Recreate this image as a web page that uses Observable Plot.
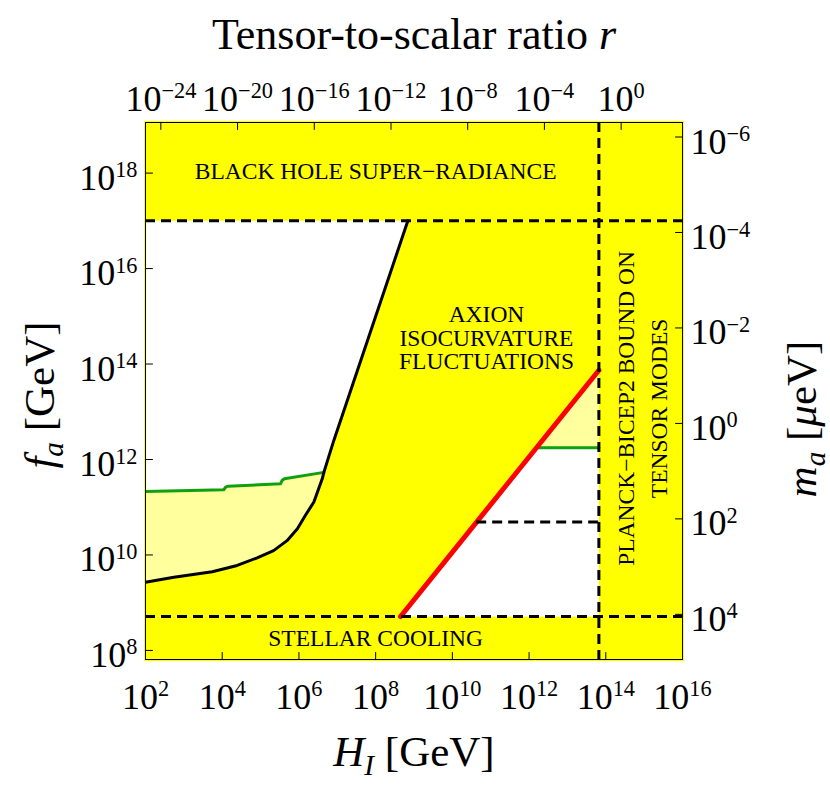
<!DOCTYPE html>
<html><head><meta charset="utf-8">
<script src="https://cdn.jsdelivr.net/npm/d3@7"></script>
<script src="https://cdn.jsdelivr.net/npm/@observablehq/plot@0.6"></script>
<style>
body{margin:0;background:#fff;}
svg{font-family:"Liberation Serif","Times New Roman",serif;}
</style></head><body><div id="chart"></div>
<script>
// ---- axes (log10 exponents) ----
const xDomainExp = [2, 16];          // H_I [GeV]
const yDomainExp = [7.81, 19.06];    // f_a [GeV]
const xTickExp = [2, 4, 6, 8, 10, 12, 14, 16];
const yTickExp = [8, 10, 12, 14, 16, 18];
const rTickExp = [-24, -20, -16, -12, -8, -4, 0];   // tensor-to-scalar ratio r
const maTickExp = [-6, -4, -2, 0, 2, 4];            // m_a [μeV]
const logHatUnitR = 14.4;     // log10 H_I where r = 1
const logMaTimesFa = 12.756;  // log10( m_a[μeV] * f_a[GeV] )

// ---- curves (log10 H_I, log10 f_a) ----
const isoLogH = [2.00, 2.74, 3.74, 4.39, 4.91, 5.34, 5.69, 5.96, 6.17, 6.39, 6.61, 6.65, 6.91, 8.84];
const isoLogF = [9.43, 9.535, 9.65, 9.78, 9.94, 10.09, 10.30, 10.55, 10.83, 11.11, 11.60, 11.73, 12.40, 17.0];
const greenLogH = [2.00, 4.04, 4.09, 4.15, 5.52, 5.56, 5.62, 6.65];
const greenLogF = [11.33, 11.366, 11.42, 11.44, 11.49, 11.56, 11.596, 11.73];
const redLogH = [8.65, 13.82];
const redLogF = [8.71, 13.87];
const blackHoleLogF = 17.0;
const stellarLogF = 8.71;
const planckLogH = 13.82;
const greenRightLogF = 12.245;
const shortDashLogF = 10.69;

// ---- region labels ----
const labelTexts = ["BLACK HOLE SUPER\u2212RADIANCE", "AXION\nISOCURVATURE\nFLUCTUATIONS", "STELLAR COOLING"];
const labelLogH = [8.0, 10.89, 8.0];
const labelLogF = [18.04, 14.54, 8.25];
const planckText = "PLANCK\u2212BICEP2 BOUND ON\nTENSOR MODES";
const planckLabelLogH = 14.88, planckLabelLogF = 13.07;

// ---- colours ----
const YELLOW = "#ffff00", LIGHT = "#ffff9e", GREEN = "#0fa00f", RED = "#ff0000";

// ---- derived geometry ----
const P = (h, f) => ({h, f});
const iso = isoLogH.map((h, i) => P(h, isoLogF[i]));
const green = greenLogH.map((h, i) => P(h, greenLogF[i]));
const jIdx = isoLogH.indexOf(greenLogH[greenLogH.length - 1]);
const redAt = f => redLogH[0] + (f - redLogF[0]) * (redLogH[1] - redLogH[0]) / (redLogF[1] - redLogF[0]);

const whiteA = [P(xDomainExp[0], blackHoleLogF), ...green, ...iso.slice(jIdx + 1)];
const lightB = [...green, ...iso.slice(0, jIdx).reverse()];
const whiteC = [P(redAt(stellarLogF), stellarLogF), P(redAt(greenRightLogF), greenRightLogF), P(planckLogH, greenRightLogF), P(planckLogH, stellarLogF)];
const lightD = [P(redAt(greenRightLogF), greenRightLogF), P(redLogH[1], redLogF[1]), P(planckLogH, greenRightLogF)];
const greenRight = [P(redAt(greenRightLogF), greenRightLogF), P(planckLogH, greenRightLogF)];
const red = redLogH.map((h, i) => P(h, redLogF[i]));

const X = d => 10 ** d.h, Y = d => 10 ** d.f;
const pow = e => "10^" + (e < 0 ? "\u2212" + (-e) : e);
const tickShape = {draw(ctx, l) { ctx.moveTo(0, 0); ctx.lineTo(0, -l); }};
const dash = "10,6";

const plot = Plot.plot({
  width: 830, height: 785,
  marginLeft: 145, marginRight: 148, marginTop: 122, marginBottom: 126,
  style: {fontFamily: '"Liberation Serif","Times New Roman",serif', background: "white"},
  x: {type: "log", domain: xDomainExp.map(e => 10 ** e), axis: null},
  y: {type: "log", domain: yDomainExp.map(e => 10 ** e), axis: null},
  marks: [
    Plot.frame({fill: YELLOW, stroke: YELLOW, strokeWidth: 3}),
    Plot.line(whiteA, {x: X, y: Y, fill: "white", stroke: "none", curve: "linear-closed", clip: true}),
    Plot.line(lightB, {x: X, y: Y, fill: LIGHT, stroke: "none", curve: "linear-closed", clip: true}),
    Plot.line(whiteC, {x: X, y: Y, fill: "white", stroke: "none", curve: "linear-closed", clip: true}),
    Plot.line(lightD, {x: X, y: Y, fill: LIGHT, stroke: "none", curve: "linear-closed", clip: true}),
    Plot.line(green, {x: X, y: Y, stroke: GREEN, strokeWidth: 3, clip: true}),
    Plot.line(greenRight, {x: X, y: Y, stroke: GREEN, strokeWidth: 3, clip: true}),
    Plot.line(iso, {x: X, y: Y, stroke: "black", strokeWidth: 3, clip: true}),
    Plot.line(red, {x: X, y: Y, stroke: RED, strokeWidth: 5, clip: true}),
    Plot.ruleY([blackHoleLogF, stellarLogF], {y: e => 10 ** e, stroke: "black", strokeWidth: 3, strokeDasharray: dash}),
    Plot.ruleX([planckLogH], {x: e => 10 ** e, stroke: "black", strokeWidth: 3, strokeDasharray: dash}),
    Plot.ruleY([shortDashLogF], {y: e => 10 ** e, x1: e => 10 ** redAt(e), x2: 10 ** planckLogH, stroke: "black", strokeWidth: 3, strokeDasharray: dash}),
    Plot.frame({stroke: "black", strokeWidth: 1}),
    // ticks (inward)
    Plot.vector(xTickExp, {x: e => 10 ** e, frameAnchor: "bottom", length: 7, anchor: "start", rotate: 0, shape: tickShape, stroke: "black", strokeWidth: 1}),
    Plot.vector(rTickExp, {x: e => 10 ** (logHatUnitR + e / 2), frameAnchor: "top", length: 7, anchor: "start", rotate: 180, shape: tickShape, stroke: "black", strokeWidth: 1}),
    Plot.vector(yTickExp, {y: e => 10 ** e, frameAnchor: "left", length: 7, anchor: "start", rotate: 90, shape: tickShape, stroke: "black", strokeWidth: 1}),
    Plot.vector(maTickExp, {y: e => 10 ** (logMaTimesFa - e), frameAnchor: "right", length: 7, anchor: "start", rotate: -90, shape: tickShape, stroke: "black", strokeWidth: 1}),
    // tick labels
    Plot.text(xTickExp, {x: e => 10 ** e, frameAnchor: "bottom", text: pow, fontSize: 36, lineAnchor: "bottom", textAnchor: "middle", dy: 49}),
    Plot.text(rTickExp, {x: e => 10 ** (logHatUnitR + e / 2), frameAnchor: "top", text: pow, fontSize: 36, lineAnchor: "bottom", textAnchor: "middle", dy: -12}),
    Plot.text(yTickExp, {y: e => 10 ** e, frameAnchor: "left", text: pow, fontSize: 36, lineAnchor: "middle", textAnchor: "end", dx: -8, dy: 5}),
    Plot.text(maTickExp, {y: e => 10 ** (logMaTimesFa - e), frameAnchor: "right", text: pow, fontSize: 36, lineAnchor: "middle", textAnchor: "start", dx: 8, dy: 5}),
    // region labels
    Plot.text(labelTexts, {x: (t, i) => 10 ** labelLogH[i], y: (t, i) => 10 ** labelLogF[i], text: t => t, fontSize: 23.5, lineHeight: 1.0, lineAnchor: "middle", textAnchor: "middle"}),
    Plot.text([planckText], {x: 10 ** planckLabelLogH, y: 10 ** planckLabelLogF, text: t => t, fontSize: 23.5, lineHeight: 1.4, lineAnchor: "middle", textAnchor: "middle", rotate: -90}),
    // axis titles
    Plot.text(["Tensor-to-scalar ratio r"], {frameAnchor: "top", text: t => t, fontSize: 44, lineAnchor: "bottom", textAnchor: "middle", dy: -74}),
    Plot.text(["H_I [GeV]"], {frameAnchor: "bottom", text: t => t, fontSize: 43, lineAnchor: "bottom", textAnchor: "middle", dy: 106}),
    Plot.text(["f_a [GeV]"], {frameAnchor: "left", text: t => t, fontSize: 43, lineAnchor: "bottom", textAnchor: "middle", rotate: -90, dx: -92, dy: 4}),
    Plot.text(["m_a [μeV]"], {frameAnchor: "right", text: t => t, fontSize: 43, lineAnchor: "bottom", textAnchor: "middle", rotate: -90, dx: 133, dy: 28})
  ]
});

const svg = d3.select(plot);
const richParts = {
  "Tensor-to-scalar ratio r": [{t: "Tensor-to-scalar ratio "}, {t: "r", i: true}],
  "H_I [GeV]": [{t: "H", i: true}, {t: "I", i: true, fs: "0.68em", dy: "9"}, {t: " [GeV]", dy: "-9"}],
  "f_a [GeV]": [{t: "f", i: true}, {t: "a", i: true, fs: "0.68em", dy: "9"}, {t: " [GeV]", dy: "-9"}],
  "m_a [μeV]": [{t: "m", i: true}, {t: "a", i: true, fs: "0.68em", dy: "9"}, {t: " [", dy: "-9"}, {t: "μ", i: true}, {t: "eV]"}]
};
svg.selectAll("text").each(function () {
  const txt = this.textContent;
  const t = d3.select(this);
  if (richParts[txt]) {
    t.text(null);
    for (const p of richParts[txt]) {
      const s = t.append("tspan").text(p.t);
      if (p.i) s.attr("font-style", "italic");
      if (p.fs) s.attr("font-size", p.fs);
      if (p.dy) s.attr("dy", p.dy);
    }
  } else if (/^10\^/.test(txt)) {
    const [b, e] = txt.split("^");
    t.text(b);
    t.append("tspan").attr("dy", "-0.56em").attr("font-size", "0.62em").text(e);
  }
});

document.getElementById("chart").appendChild(plot);
</script></body></html>
